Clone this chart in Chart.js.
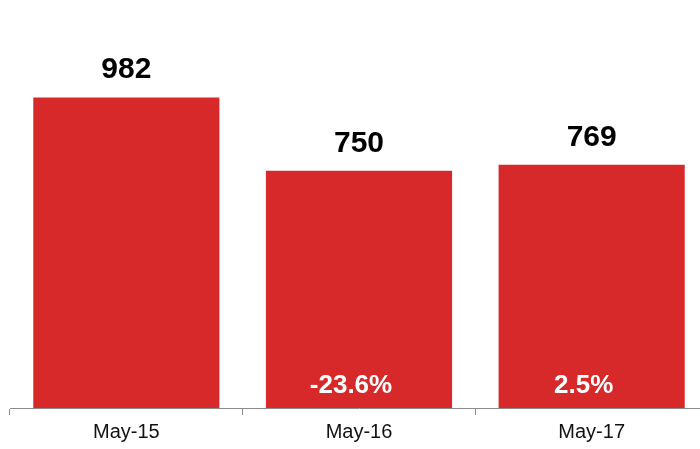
<!DOCTYPE html>
<html>
<head>
<meta charset="utf-8">
<script src="https://cdn.jsdelivr.net/npm/chart.js@4/dist/chart.umd.min.js"></script>
<style>
  html, body { margin: 0; padding: 0; background: #fff; overflow: hidden; }
  #wrap { position: relative; width: 708px; height: 449px; }
</style>
</head>
<body>
<div id="wrap"><canvas id="chart"></canvas></div>
<script>
// Data
const categories = ['May-15', 'May-16', 'May-17'];
const values = [982, 750, 769];
const changeLabels = ['', '-23.6%', '2.5%'];

const FONT = '"Liberation Sans", Arial, Helvetica, sans-serif';

// Draw value labels above bars and change labels inside bars
const barLabels = {
    id: 'barLabels',
    afterDatasetsDraw(chart) {
        const ctx = chart.ctx;
        const meta = chart.getDatasetMeta(0);
        ctx.save();
        ctx.textAlign = 'center';
        ctx.textBaseline = 'alphabetic';
        meta.data.forEach((bar, i) => {
            ctx.fillStyle = '#000';
            ctx.font = 'bold 30px ' + FONT;
            ctx.fillText(String(values[i]), bar.x, bar.y - 19);
            if (changeLabels[i]) {
                ctx.fillStyle = '#fff';
                ctx.font = 'bold 26px ' + FONT;
                ctx.fillText(changeLabels[i], bar.x - 8, bar.base - 15);
            }
        });
        ctx.restore();
    }
};

new Chart(document.getElementById('chart'), {
    type: 'bar',
    data: {
        labels: categories,
        datasets: [{
            data: values,
            backgroundColor: '#d7292a',
            borderWidth: 0,
            barPercentage: 0.8,
            categoryPercentage: 1
        }]
    },
    options: {
        responsive: true,
        maintainAspectRatio: false,
        animation: false,
        layout: {
            padding: { top: 0, left: 10, right: 0, bottom: 0 }
        },
        plugins: {
            legend: { display: false },
            tooltip: { enabled: false }
        },
        scales: {
            y: {
                display: false,
                min: 0,
                max: 1290
            },
            x: {
                offset: true,
                border: { display: true, color: '#8a8a8a', width: 1 },
                grid: {
                    offset: true,
                    drawOnChartArea: false,
                    drawTicks: true,
                    tickLength: 7,
                    color: '#8a8a8a'
                },
                ticks: {
                    color: '#111',
                    font: { family: FONT, size: 20, lineHeight: 1.0 },
                    padding: 7,
                    maxRotation: 0
                }
            }
        }
    },
    plugins: [barLabels]
});
</script>
</body>
</html>
